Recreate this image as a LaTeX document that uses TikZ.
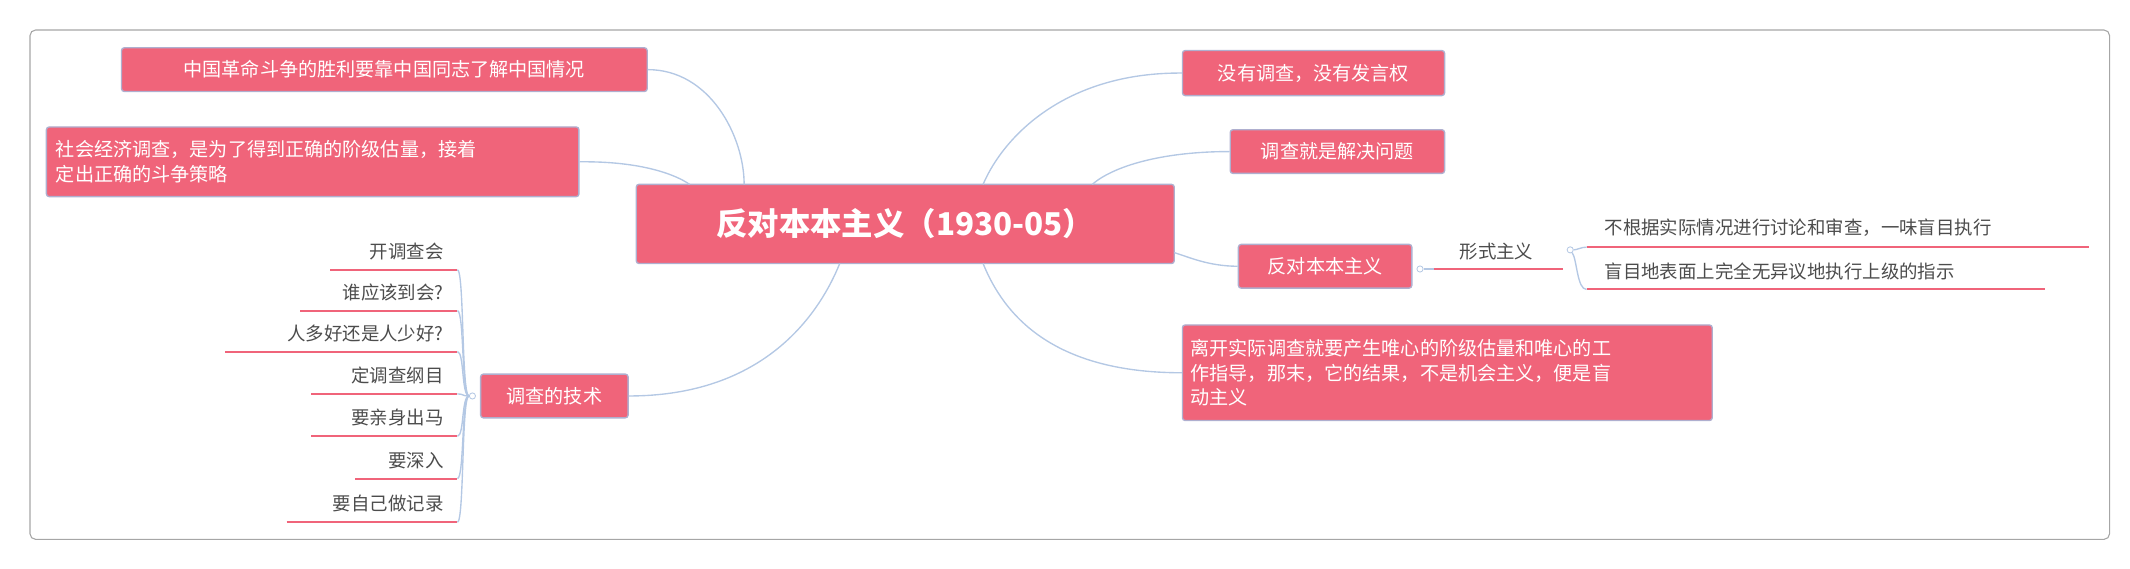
\documentclass[tikz,border=0pt]{standalone}
\usepackage{fontspec}
\setmainfont{Noto Sans CJK SC}
\newfontfamily\cjkb[BoldFont=* Bold]{Noto Sans CJK SC}
\begin{document}
\begin{tikzpicture}[x=1pt,y=-1pt,
  box/.style={draw=blue!25!gray!50,line width=1pt,fill=pk,rounded corners=2pt,text=white,inner sep=0pt,font=\fontsize{14}{18}\selectfont},
  lf/.style={text=black!70,font=\fontsize{13.5}{16}\selectfont,inner sep=0pt},
  ul/.style={draw=pk,line width=1.5pt},
  con/.style={draw=lb,line width=1pt},
  dot/.style={circle,draw=lb,fill=white,inner sep=1.6pt,line width=0.6pt}]
\definecolor{pk}{HTML}{F0647A}
\definecolor{lb}{HTML}{B4C8E4}
\useasboundingbox (0,0) rectangle (1560,416);
\draw[black!35,rounded corners=4pt,line width=0.8pt] (22,22) rectangle (1545,395);
% center
\node[box,minimum width=394pt,minimum height=58pt,font=\fontsize{23}{28}\selectfont\bfseries] (c) at (663,164) {反对本本主义（1930-05）};
% left boxes
\node[box,minimum width=385pt,minimum height=32pt] (l1) at (281.5,51) {中国革命斗争的胜利要靠中国同志了解中国情况};
\node[box,minimum width=390pt,minimum height=51pt,align=left,text width=376pt] (l2) at (229,118.5) {社会经济调查，是为了得到正确的阶级估量，接着\\定出正确的斗争策略};
\node[box,minimum width=108pt,minimum height=32pt] (l3) at (406,290) {调查的技术};
% right boxes
\node[box,minimum width=192pt,minimum height=33pt] (r1) at (962,53.5) {没有调查，没有发言权};
\node[box,minimum width=157pt,minimum height=32pt] (r2) at (979.5,111) {调查就是解决问题};
\node[box,minimum width=127pt,minimum height=32pt] (r3) at (970.5,195) {反对本本主义};
\node[box,minimum width=388pt,minimum height=70pt,align=left,text width=376pt] (r4) at (1060,273) {离开实际调查就要产生唯心的阶级估量和唯心的工\\作指导，那末，它的结果，不是机会主义，便是盲\\动主义};
% main connectors
\coordinate (a1) at (545,135); \coordinate (a2) at (505,135);
\coordinate (a3) at (615,193); \coordinate (b1) at (720,135);
\coordinate (b2) at (800,135); \coordinate (b3) at (860,185);
\coordinate (b4) at (720,193);
\draw[con] (l1.east) .. controls (520,51) and (545,100) .. (a1);
\draw[con] (l2.east) .. controls (470,118) and (495,128) .. (a2);
\draw[con] (l3.east) .. controls (560,290) and (600,230) .. (a3);
\draw[con] (r1.west) .. controls (780,53) and (735,100) .. (b1);
\draw[con] (r2.west) .. controls (850,111) and (815,122) .. (b2);
\draw[con] (r3.west) .. controls (885,195) and (870,188) .. (b3);
\draw[con] (r4.west) .. controls (770,273) and (735,230) .. (b4);
% 形式主义
\node[dot] (d1) at (1040,197) {};
\node[lf] (f) at (1096,184) {形式主义};
\coordinate (fl) at (1050,197); \coordinate (fr) at (1145,197);
\draw[ul] (fl) -- (fr);
\draw[con] (d1) -- (fl);
\node[dot] (d2) at (1150,183) {};
\node[lf,anchor=west] (g1) at (1175,167) {不根据实际情况进行讨论和审查，一味盲目执行};
\node[lf,anchor=west] (g2) at (1175,199) {盲目地表面上完全无异议地执行上级的指示};
\coordinate (g1l) at (1162,181); \coordinate (g1r) at (1530,181);
\coordinate (g2l) at (1162,212); \coordinate (g2r) at (1498,212);
\draw[ul] (g1l) -- (g1r); \draw[ul] (g2l) -- (g2r);
\draw[con] (d2) .. controls (1155,183) and (1158,181) .. (g1l);
\draw[con] (d2) .. controls (1155,190) and (1155,212) .. (g2l);
% 调查的技术 children
\node[dot] (d3) at (346,290) {};
\foreach \n/\t/\y/\xl in {k1/开调查会/184/242, k2/谁应该到会?/214/220, k3/人多好还是人少好?/244/165, k4/定调查纲目/275/228, k5/要亲身出马/306/228, k6/要深入/337/260, k7/要自己做记录/369/210}{
  \node[lf,anchor=east] (\n) at (325,\y) {\t};
  \coordinate (\n r) at (335,\y+13.5);
  \draw[ul] (\xl,\y+13.5) -- (\n r);
  \draw[con] (d3) .. controls (338,290) and (340,\y+13.5) .. (\n r);
}
\end{tikzpicture}
\end{document}
